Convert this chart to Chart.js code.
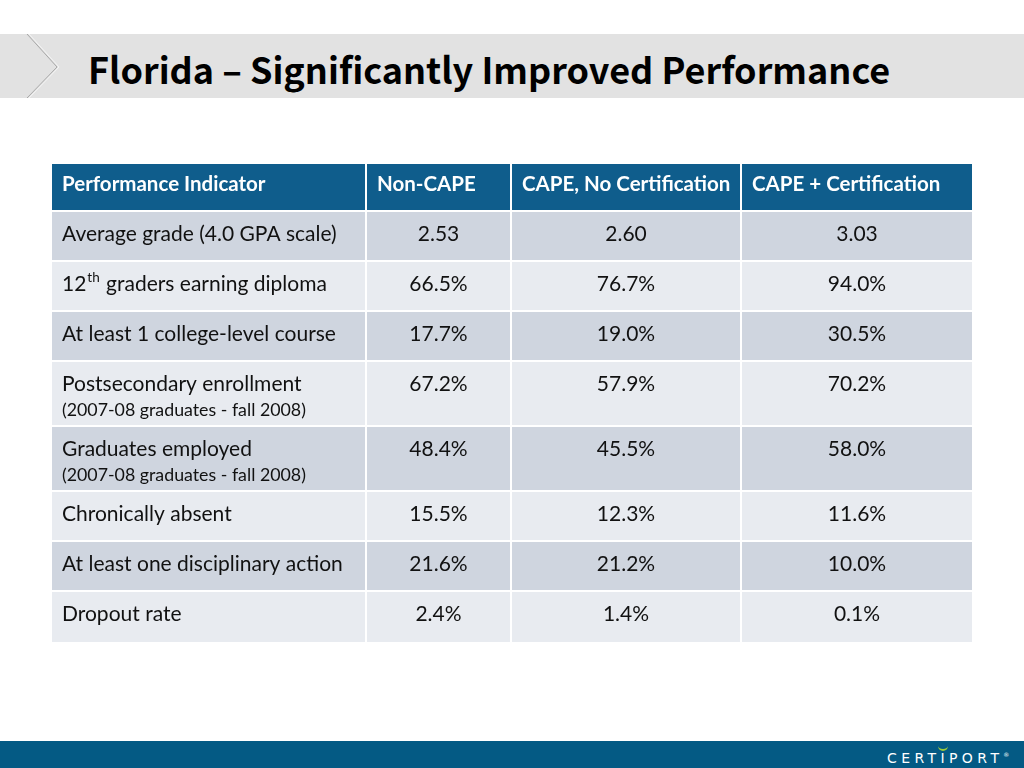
<!DOCTYPE html>
<html>
<head>
<meta charset="utf-8">
<script src="https://cdn.jsdelivr.net/npm/chart.js@4"></script>
<style>
  html, body { margin: 0; padding: 0; background: #fff; }
  body { width: 1024px; height: 768px; position: relative; overflow: hidden; font-family: Lato, sans-serif; }
  #banner { position: absolute; left: 0; top: 34px; width: 1024px; height: 64px; background: #e2e2e2; }
  #banner svg { position: absolute; left: 0; top: 0; }
  #banner h1 {
    position: absolute; left: 88px; top: 0; margin: 0; line-height: 68px; white-space: nowrap;
    font-family: "Noto Sans CJK JP", sans-serif; font-weight: 700; font-size: 36px; color: #000;
  }
  #wrap { position: absolute; left: 52px; top: 164px; width: 920px; height: 478px; }
  #footer { position: absolute; left: 0; top: 741px; width: 1024px; height: 27px; background: #045a84; }
  #logo {
    position: absolute; left: 887px; top: 5px; color: #fff; font-family: "DejaVu Sans", sans-serif;
    font-size: 14px; letter-spacing: 4.4px; line-height: 18px;
  }
  #logo .i { position: relative; }
  #logo .i::before {
    content: ''; position: absolute; left: -2px; top: -4px; width: 10px; height: 5px;
    border-bottom: 2px solid #9ccc3c; border-radius: 0 0 6px 6px; box-sizing: border-box;
  }
  #logo sup { font-size: 6px; letter-spacing: 0; vertical-align: 6px; }
</style>
</head>
<body>
<div id="banner">
  <svg width="70" height="64">
    <polyline points="27,0 57,33 27,64" fill="none" stroke="#a8a8a8" stroke-width="1"/>
    <polyline points="29,0 59,33 29,64" fill="none" stroke="#f4f4f4" stroke-width="1"/>
  </svg>
  <h1>Florida – Significantly Improved Performance</h1>
</div>
<div id="wrap"><canvas id="table" width="920" height="478"></canvas></div>
<div id="footer"><div id="logo">CERT<span class="i">I</span>PORT<sup>®</sup></div></div>

<script>
// table content
const columns = ['Performance Indicator', 'Non-CAPE', 'CAPE, No Certification', 'CAPE + Certification'];
const indicators = [
  'Average grade (4.0 GPA scale)',
  '12{th} graders earning diploma',
  'At least 1 college-level course',
  'Postsecondary enrollment',
  'Graduates employed',
  'Chronically absent',
  'At least one disciplinary action',
  'Dropout rate'
];
const notes = ['', '', '', '(2007-08 graduates - fall 2008)', '(2007-08 graduates - fall 2008)', '', '', ''];
const nonCape = ['2.53', '66.5%', '17.7%', '67.2%', '48.4%', '15.5%', '21.6%', '2.4%'];
const capeNoCert = ['2.60', '76.7%', '19.0%', '57.9%', '45.5%', '12.3%', '21.2%', '1.4%'];
const capeCert = ['3.03', '94.0%', '30.5%', '70.2%', '58.0%', '11.6%', '10.0%', '0.1%'];

// layout (scale units = px of the table)
const COL_EDGES = [0, 315, 460, 690, 920];
const HEADER_H = 48, ROW_H = 50, NOTE_ROW_H = 65, GAP = 2;
const HEADER_BG = '#0f5d8c', ROW_DARK = '#cfd5df', ROW_LIGHT = '#e8ebf0';
const HEAD_FONT = 'bold 20.5px Lato', BODY_FONT = '21px Lato', SUP_FONT = '13.5px Lato', NOTE_FONT = '17.8px Lato';

const rowEdges = [0, HEADER_H];
indicators.forEach((_, i) => rowEdges.push(rowEdges[rowEdges.length - 1] + (notes[i] ? NOTE_ROW_H : ROW_H)));
const totalH = rowEdges[rowEdges.length - 1];

const cellPlugin = {
  id: 'cells',
  afterDraw(chart) {
    const { ctx, scales: { x, y } } = chart;
    const nCols = COL_EDGES.length - 1, nRows = rowEdges.length - 1;
    const values = [nonCape, capeNoCert, capeCert];

    ctx.save();
    for (let r = 0; r < nRows; r++) {
      const top = y.getPixelForValue(rowEdges[r]);
      const bot = y.getPixelForValue(rowEdges[r + 1]) - (r < nRows - 1 ? GAP : 0);
      for (let c = 0; c < nCols; c++) {
        const left = x.getPixelForValue(COL_EDGES[c]);
        const right = x.getPixelForValue(COL_EDGES[c + 1]) - (c < nCols - 1 ? GAP : 0);
        ctx.fillStyle = r === 0 ? HEADER_BG : ((r - 1) % 2 === 0 ? ROW_DARK : ROW_LIGHT);
        ctx.fillRect(left, top, right - left, bot - top);

        ctx.textBaseline = 'alphabetic';
        if (r === 0) {
          ctx.fillStyle = '#fff';
          ctx.font = HEAD_FONT;
          ctx.textAlign = 'left';
          ctx.fillText(columns[c], left + 10, top + 26.5);
          continue;
        }
        ctx.fillStyle = '#111';
        ctx.font = BODY_FONT;
        if (c === 0) {
          ctx.textAlign = 'left';
          const label = indicators[r - 1];
          const m = label.match(/^(.*)\{(.*)\}(.*)$/);
          if (m) {
            let px = left + 10;
            ctx.fillText(m[1], px, top + 28.5);
            px += ctx.measureText(m[1]).width;
            ctx.font = SUP_FONT;
            ctx.fillText(m[2], px + 1, top + 19.5);
            px += ctx.measureText(m[2]).width + 2;
            ctx.font = BODY_FONT;
            ctx.fillText(m[3], px, top + 28.5);
          } else {
            ctx.fillText(label, left + 10, top + 28.5);
          }
          if (notes[r - 1]) {
            ctx.font = NOTE_FONT;
            ctx.fillText(notes[r - 1], left + 10, top + 54);
          }
        } else {
          ctx.textAlign = 'center';
          ctx.fillText(values[c - 1][r - 1], (left + right) / 2, top + 28.5);
        }
      }
    }
    ctx.restore();
  }
};

new Chart(document.getElementById('table'), {
  type: 'scatter',
  data: { datasets: [{ data: [] }] },
  options: {
    responsive: false,
    animation: false,
    layout: { padding: 0 },
    plugins: { legend: { display: false }, tooltip: { enabled: false } },
    scales: {
      x: { type: 'linear', min: 0, max: COL_EDGES[COL_EDGES.length - 1], display: false },
      y: { type: 'linear', min: 0, max: totalH, reverse: true, display: false }
    }
  },
  plugins: [cellPlugin]
});
</script>
</body>
</html>
